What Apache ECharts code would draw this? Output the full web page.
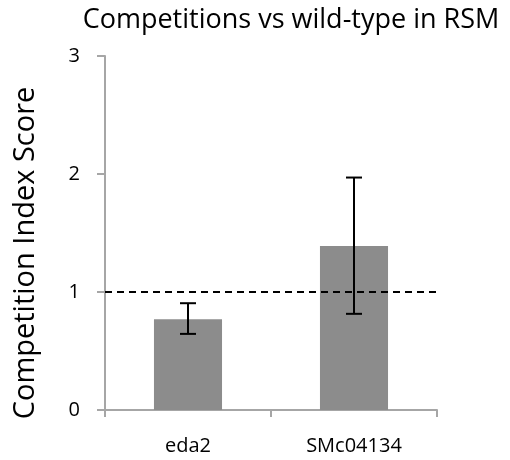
<!DOCTYPE html>
<html><head><meta charset="utf-8">
<script src="https://cdn.jsdelivr.net/npm/echarts@6/dist/echarts.min.js"></script>
<style>html,body{margin:0;padding:0;background:#fff}#c{width:510px;height:460px}</style>
</head><body><div id="c"></div>
<script>
var categories = ['eda2', 'SMc04134'];
var values = [0.77, 1.39];
var errLow = [0.645, 0.815];
var errHigh = [0.905, 1.97];
var refLine = 1;
var yTicks = [0, 1, 2, 3];

var font = 'Open Sans';
var chart = echarts.init(document.getElementById('c'));
chart.setOption({
  animation: false,
  title: {
    text: 'Competitions vs wild-type in RSM',
    left: 286, top: 2, textAlign: 'center',
    textStyle: {fontFamily: font, fontSize: 27, fontWeight: 'normal', color: '#000'}
  },
  grid: {left: 105, right: 73, top: 56, bottom: 50},
  xAxis: {
    type: 'category', data: categories,
    axisLine: {lineStyle: {color: '#a6a6a6', width: 2}},
    axisTick: {show: true, length: 7, lineStyle: {color: '#a6a6a6', width: 2}},
    axisLabel: {fontFamily: font, fontSize: 20, color: '#000', margin: 26}
  },
  yAxis: {
    type: 'value', min: 0, max: 3, interval: 1,
    name: 'Competition Index Score', nameLocation: 'middle', nameGap: 65,
    nameTextStyle: {fontFamily: font, fontSize: 29, color: '#000', padding: [0, 40, 0, 0]},
    axisLine: {show: true, lineStyle: {color: '#a6a6a6', width: 2}},
    axisTick: {show: true, length: 8, lineStyle: {color: '#a6a6a6', width: 2}},
    axisLabel: {fontFamily: font, fontSize: 20, color: '#000', margin: 25, align: 'right',
      formatter: function (v) { return yTicks.indexOf(v) >= 0 ? String(v) : ''; }},
    splitLine: {show: false}
  },
  series: [{
    type: 'bar', data: values, barWidth: '41%',
    itemStyle: {color: '#8c8c8c'},
    markLine: {
      silent: true, symbol: 'none', label: {show: false},
      lineStyle: {color: '#000', type: [7, 5], width: 2},
      data: [{yAxis: refLine}]
    }
  }, {
    type: 'custom',
    data: categories.map(function (c, i) { return [i, errLow[i], errHigh[i]]; }),
    z: 10,
    renderItem: function (params, api) {
      var lo = api.coord([api.value(0), api.value(1)]);
      var hi = api.coord([api.value(0), api.value(2)]);
      var hw = 8;
      var st = {stroke: '#000', lineWidth: 2};
      return {type: 'group', children: [
        {type: 'line', shape: {x1: lo[0], y1: lo[1], x2: hi[0], y2: hi[1]}, style: st},
        {type: 'line', shape: {x1: lo[0] - hw, y1: lo[1], x2: lo[0] + hw, y2: lo[1]}, style: st},
        {type: 'line', shape: {x1: hi[0] - hw, y1: hi[1], x2: hi[0] + hw, y2: hi[1]}, style: st}
      ]};
    }
  }]
});
</script></body></html>
